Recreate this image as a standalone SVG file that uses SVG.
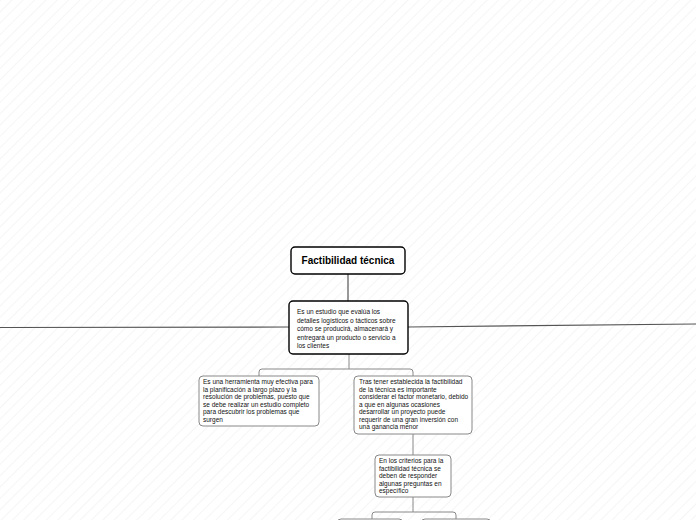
<svg xmlns="http://www.w3.org/2000/svg" width="696" height="520" viewBox="0 0 696 520">
<defs>
<pattern id="hatch" width="8" height="8" patternUnits="userSpaceOnUse" patternTransform="rotate(45)">
<rect width="8" height="8" fill="#ffffff"/>
<line x1="0" y1="0" x2="0" y2="8" stroke="#f2f2f2" stroke-width="1.5"/>
</pattern>
<style>
.t{font-family:"Liberation Sans",Arial,sans-serif;font-size:6.5px;fill:#111}
.b{fill:#fff;stroke:#000;stroke-width:1.4}
.g{fill:#fff;stroke:#888;stroke-width:1}
.c{fill:none;stroke:#555;stroke-width:1.2}
.cg{fill:none;stroke:#888;stroke-width:1}
</style>
</defs>
<rect width="696" height="520" fill="url(#hatch)"/>
<g id="connectors">
<path class="c" d="M348 274V301"/>
<path class="c" d="M0 327.5L289 327"/>
<path class="c" d="M408 327L696 324"/>
<path class="cg" d="M349 354V369"/>
<path class="cg" d="M259 376V372Q259 369 262 369H410Q413 369 413 372V376"/>
<path class="cg" d="M413 434V455"/>
<path class="cg" d="M413 497V512"/>
<path class="cg" d="M372 519V515Q372 512 375 512H453Q456 512 456 515V519"/>
</g>
<g id="root">
<rect class="b" x="291" y="247" width="114" height="27" rx="4"/>
<text x="348" y="264" text-anchor="middle" style="font-family:'Liberation Sans',Arial,sans-serif;font-size:10px;font-weight:bold;fill:#000">Factibilidad técnica</text>
</g>
<g id="def">
<rect class="b" x="289" y="301" width="119" height="53" rx="4"/>
<text class="t"><tspan x="297" y="314">Es un estudio que evalúa los</tspan><tspan x="297" y="322.5">detalles logísticos o tácticos sobre</tspan><tspan x="297" y="331">cómo se producirá, almacenará y</tspan><tspan x="297" y="339.5">entregará un producto o servicio a</tspan><tspan x="297" y="348">los clientes</tspan></text>
</g>
<g id="left">
<rect class="g" x="199" y="376" width="120" height="50" rx="4"/>
<text class="t"><tspan x="203" y="384">Es una herramienta muy efectiva para</tspan><tspan x="203" y="391.5">la planificación a largo plazo y la</tspan><tspan x="203" y="399">resolución de problemas, puesto que</tspan><tspan x="203" y="406.5">se debe realizar un estudio completo</tspan><tspan x="203" y="414">para descubrir los problemas que</tspan><tspan x="203" y="421.5">surgen</tspan></text>
</g>
<g id="right">
<rect class="g" x="354" y="376" width="118" height="58" rx="4"/>
<text class="t"><tspan x="359" y="384">Tras tener establecida la factibilidad</tspan><tspan x="359" y="391.5">de la técnica es importante</tspan><tspan x="359" y="399">considerar el factor monetario, debido</tspan><tspan x="359" y="406.5">a que en algunas ocasiones</tspan><tspan x="359" y="414">desarrollar un proyecto puede</tspan><tspan x="359" y="421.5">requerir de una gran inversión con</tspan><tspan x="359" y="429">una ganancia menor</tspan></text>
</g>
<g id="criteria">
<rect class="g" x="375" y="455" width="76" height="42" rx="4"/>
<text class="t"><tspan x="379" y="463">En los criterios para la</tspan><tspan x="379" y="470.5">factibilidad técnica  se</tspan><tspan x="379" y="478">deben de responder</tspan><tspan x="379" y="485.5">algunas preguntas en</tspan><tspan x="379" y="493">específico</tspan></text>
</g>
<g id="child-a">
<rect class="g" x="337" y="519" width="66" height="20" rx="4"/>
</g>
<g id="child-b">
<rect class="g" x="421" y="519" width="70" height="20" rx="4"/>
</g>
</svg>
